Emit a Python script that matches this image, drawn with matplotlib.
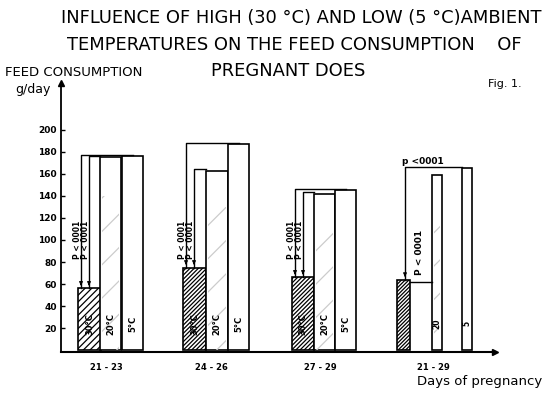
import matplotlib.pyplot as plt

# feed consumption, g/day
groups = ['21 - 23', '24 - 26', '27 - 29', '21 - 29']
temps = ['30°C', '20°C', '5°C']
feed_30 = [56, 75, 66, 64]
feed_20 = [175, 163, 142, 159]
feed_5 = [176, 187, 145, 165]
p_label = 'P < 0001'
y_ticks = [20, 40, 60, 80, 100, 120, 140, 160, 180, 200]

W, H = 546, 394
fig = plt.figure(figsize=(W / 100, H / 100), dpi=100)
plt.rcParams['hatch.linewidth'] = 0.9

# axes in pixel units (x data = pixel - 61)
ax = fig.add_axes([61 / W, (H - 352) / H, (495 - 61) / W, (352 - 83) / H])
ax.set_xlim(0, 434)
ax.set_ylim(-1.8, 242.7)

group_left = [17, 122, 231, 336]
# offsets / widths of the three bars inside each group
offs = [[0, 22, 44], [0, 23, 45], [0, 22, 43], [0, 35, 65]]
wids = [[23, 21, 21], [23, 22, 21], [22, 21, 21], [13, 10, 10]]
hatch_30 = ['/////', '////////', '////////', '/////////']

for g in range(4):
    x0 = group_left[g]
    vals = [feed_30[g], feed_20[g], feed_5[g]]
    for b in range(3):
        x = x0 + offs[g][b]
        w = wids[g][b]
        if b == 0:
            ax.bar(x, vals[b], w, align='edge', facecolor='white', edgecolor='black',
                   hatch=hatch_30[g], linewidth=1.2, zorder=3)
        else:
            ax.bar(x, vals[b], w, align='edge', facecolor='white', edgecolor='black',
                   linewidth=1.2, zorder=3)
            if b == 1:
                ax.bar(x + 2, vals[b] * 0.8, w - 4, align='edge', fill=False, edgecolor='0.8',
                       hatch='/', linewidth=0, zorder=3)
        if g < 3:
            ax.text(x + w / 2, 24, temps[b], rotation=90, ha='center', va='center',
                    fontsize=6, fontweight='bold', zorder=5)
        elif b > 0:
            ax.text(x + w / 2, 24, temps[b][:-2], rotation=90, ha='center', va='center',
                    fontsize=5.5, fontweight='bold', zorder=5)

    # significance brackets
    top_out = feed_5[g] + 1.5
    x_5 = x0 + offs[g][2]
    x_20 = x0 + offs[g][1]
    if g < 3:
        xo, xi = x0 + 3, x0 + 11
        top_in = feed_20[g] + 1.5
        ax.plot([xo, xo, x_5 + wids[g][2] / 2], [feed_30[g], top_out, top_out],
                color='black', lw=1.0, zorder=4)
        ax.plot([xi, xi, x_20], [feed_30[g], top_in, top_in], color='black', lw=1.0, zorder=4)
        for xx in (xo, xi):
            ax.annotate('', xy=(xx, feed_30[g]), xytext=(xx, feed_30[g] + 6),
                        arrowprops=dict(arrowstyle='-|>', color='black', lw=0.8,
                                        mutation_scale=5), zorder=4)
            ax.text(xx - 3.5, 100, p_label, rotation=90, ha='center', va='center',
                    fontsize=5.5, fontweight='bold', zorder=5)
    else:
        xo = x0 + 8
        ax.plot([xo, xo, x_5], [feed_30[g], top_out, top_out], color='black', lw=1.0, zorder=4)
        ax.plot([x0 + wids[g][0], x_20], [feed_30[g] - 2, feed_30[g] - 2],
                color='black', lw=1.0, zorder=4)
        ax.annotate('', xy=(xo, feed_30[g]), xytext=(xo, feed_30[g] + 6),
                    arrowprops=dict(arrowstyle='-|>', color='black', lw=0.8,
                                    mutation_scale=5), zorder=4)
        ax.text(xo + 15, 89, p_label, rotation=90, ha='center', va='center',
                fontsize=6.5, fontweight='bold', zorder=5)
        ax.text(xo + 18, top_out + 1, 'p <0001', ha='center', va='bottom',
                fontsize=6.5, fontweight='bold', zorder=5)

# axes styling
for s in ['top', 'right']:
    ax.spines[s].set_visible(False)
ax.spines['left'].set_linewidth(1.3)
ax.spines['bottom'].set_linewidth(1.5)
ax.plot(0, 242.7, marker='^', color='black', markersize=5, clip_on=False, zorder=6)
ax.plot(434, -1.8, marker='>', color='black', markersize=5, clip_on=False, zorder=6)

ax.set_yticks(y_ticks)
ax.set_yticklabels([str(v) for v in y_ticks], fontsize=6.5, fontweight='bold')
ax.tick_params(axis='y', direction='in', length=3, width=1, pad=3)
ax.set_xticks([gl + 28 if i < 3 else gl + 36 for i, gl in enumerate(group_left)])
ax.set_xticklabels(groups, fontsize=6, fontweight='bold')
ax.tick_params(axis='x', length=0, pad=8)

# titles and captions
fig.text(301 / W, 1 - 18 / H, 'INFLUENCE OF HIGH (30 °C) AND LOW (5 °C)AMBIENT',
         ha='center', va='center', fontsize=12.9)
fig.text(294 / W, 1 - 45 / H, 'TEMPERATURES ON THE FEED CONSUMPTION    OF',
         ha='center', va='center', fontsize=12.9)
fig.text(288 / W, 1 - 71 / H, 'PREGNANT DOES', ha='center', va='center', fontsize=12.9)
fig.text(5 / W, 1 - 73 / H, 'FEED CONSUMPTION', ha='left', va='center', fontsize=9.5)
fig.text(15 / W, 1 - 89 / H, 'g/day', ha='left', va='center', fontsize=9)
fig.text(488 / W, 1 - 84 / H, 'Fig. 1.', ha='left', va='center', fontsize=8)
fig.text(417 / W, 1 - 381 / H, 'Days of pregnancy', ha='left', va='center', fontsize=9.5)

fig.savefig('out.png', dpi=100)
